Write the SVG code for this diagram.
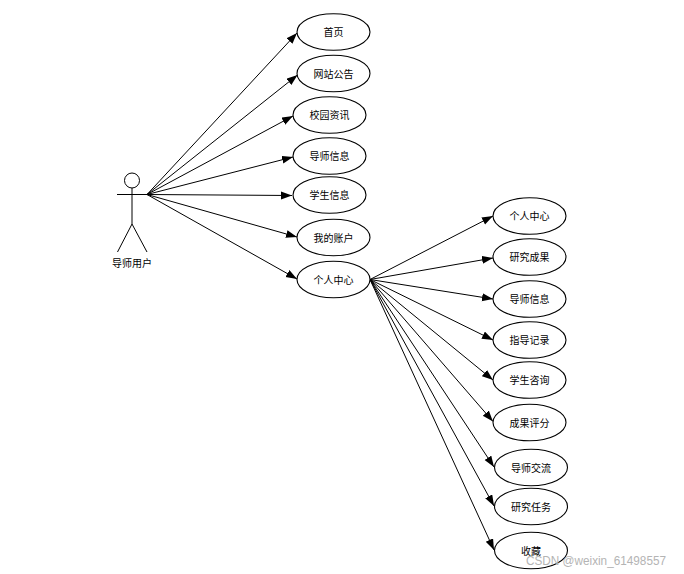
<svg xmlns="http://www.w3.org/2000/svg" width="684" height="574" viewBox="0 0 684 574">
<defs>
<style>
.n ellipse{fill:#fff;stroke:#000;stroke-width:1.1}
.n text,.a text{font:10px "Noto Sans CJK SC","Liberation Sans",sans-serif;fill:#000;text-anchor:middle}
.c line{stroke:#000;stroke-width:1;marker-end:url(#h)}
.a circle,.a line{fill:#fff;stroke:#000;stroke-width:1}
.w{font:12px "Liberation Sans",sans-serif;fill:#b4b4b4}
</style>
<marker id="h" markerUnits="userSpaceOnUse" markerWidth="12" markerHeight="9" refX="11" refY="4" orient="auto"><path d="M0 0L11 4L0 8Z" fill="#000"/></marker>
</defs>
<rect width="684" height="574" fill="#fff"/>
<g id="connectors" class="c">
<line x1="147" y1="194.5" x2="297" y2="33"/>
<line x1="147" y1="194.5" x2="297.5" y2="75"/>
<line x1="147" y1="194.5" x2="293" y2="116"/>
<line x1="147" y1="194.5" x2="293" y2="157"/>
<line x1="147" y1="194.5" x2="292" y2="195.5"/>
<line x1="147" y1="194.5" x2="297" y2="237"/>
<line x1="147" y1="194.5" x2="297" y2="279"/>
<line x1="370" y1="279.5" x2="493" y2="216"/>
<line x1="370" y1="279.5" x2="493" y2="258"/>
<line x1="370" y1="279.5" x2="493" y2="299"/>
<line x1="370" y1="279.5" x2="493" y2="340"/>
<line x1="370" y1="279.5" x2="493" y2="380"/>
<line x1="370" y1="279.5" x2="493" y2="421.5"/>
<line x1="370" y1="279.5" x2="494" y2="467"/>
<line x1="370" y1="279.5" x2="494" y2="506"/>
<line x1="370" y1="279.5" x2="494" y2="550"/>
</g>
<g id="actor" class="a">
<circle cx="132" cy="180.5" r="7.5"/>
<line x1="132" y1="188" x2="132" y2="224"/>
<line x1="117" y1="194.5" x2="147" y2="194.5"/>
<line x1="132" y1="224" x2="117.5" y2="252"/>
<line x1="132" y1="224" x2="147" y2="252"/>
<text x="132" y="267">导师用户</text>
</g>
<g id="n1" class="n"><ellipse cx="333.5" cy="32" rx="36.5" ry="18.3"/><text x="333.5" y="36">首页</text></g>
<g id="n2" class="n"><ellipse cx="333.5" cy="73.5" rx="36.5" ry="18.3"/><text x="333.5" y="77.5">网站公告</text></g>
<g id="n3" class="n"><ellipse cx="329.5" cy="115" rx="36.5" ry="18.3"/><text x="329.5" y="119">校园资讯</text></g>
<g id="n4" class="n"><ellipse cx="329.5" cy="156" rx="36.5" ry="18.3"/><text x="329.5" y="160">导师信息</text></g>
<g id="n5" class="n"><ellipse cx="329.5" cy="195" rx="36.5" ry="18.3"/><text x="329.5" y="199">学生信息</text></g>
<g id="n6" class="n"><ellipse cx="333.5" cy="237.5" rx="36.5" ry="18.3"/><text x="333.5" y="241.5">我的账户</text></g>
<g id="n7" class="n"><ellipse cx="333.5" cy="279.5" rx="36.5" ry="18.3"/><text x="333.5" y="283.5">个人中心</text></g>
<g id="m1" class="n"><ellipse cx="529.5" cy="216" rx="36.5" ry="18.3"/><text x="529.5" y="220">个人中心</text></g>
<g id="m2" class="n"><ellipse cx="529.5" cy="257" rx="36.5" ry="18.3"/><text x="529.5" y="261">研究成果</text></g>
<g id="m3" class="n"><ellipse cx="529.5" cy="299" rx="36.5" ry="18.3"/><text x="529.5" y="303">导师信息</text></g>
<g id="m4" class="n"><ellipse cx="529.5" cy="340" rx="36.5" ry="18.3"/><text x="529.5" y="344">指导记录</text></g>
<g id="m5" class="n"><ellipse cx="529.5" cy="380" rx="36.5" ry="18.3"/><text x="529.5" y="384">学生咨询</text></g>
<g id="m6" class="n"><ellipse cx="529.5" cy="422.5" rx="36.5" ry="18.3"/><text x="529.5" y="426.5">成果评分</text></g>
<g id="m7" class="n"><ellipse cx="531" cy="467.5" rx="36.5" ry="18.3"/><text x="531" y="471.5">导师交流</text></g>
<g id="m8" class="n"><ellipse cx="531" cy="506.5" rx="36.5" ry="18.3"/><text x="531" y="510.5">研究任务</text></g>
<g id="m9" class="n"><ellipse cx="531" cy="550.5" rx="36.5" ry="18.3"/><text x="531" y="554.5">收藏</text></g>
<text class="w" x="526" y="565" textLength="140" lengthAdjust="spacingAndGlyphs">CSDN @weixin_61498557</text>
</svg>
